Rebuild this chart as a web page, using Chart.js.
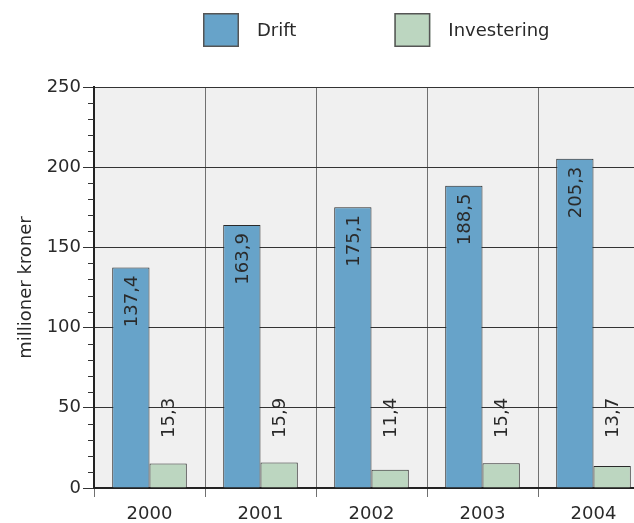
<!DOCTYPE html>
<html><head><meta charset="utf-8">
<script src="https://cdn.jsdelivr.net/npm/chart.js@4.4.1/dist/chart.umd.min.js"></script>
<style>
html,body{margin:0;padding:0;overflow:hidden;background:#fff;width:634px;height:523px}
#wrap{position:absolute;left:0;top:0;width:660px;height:523px}
</style>
</head><body><div id="wrap"><canvas id="c" width="660" height="523"></canvas></div>
<script>
const categories = ['2000', '2001', '2002', '2003', '2004'];
const driftValues = [137.4, 163.9, 175.1, 188.5, 205.3];
const investeringValues = [15.3, 15.9, 11.4, 15.4, 13.7];
const seriesNames = ['Drift', 'Investering'];
const yMin = 0, yMax = 250, yMajorStep = 50, yMinorStep = 10;
const yTitle = 'millioner kroner';

const FONT = '"DejaVu Sans", Verdana, sans-serif';
const TEXT = '#2a2a2a';
const BLUE = '#67a3c9';
const GREEN = '#bcd6c0';
const fmt = v => v.toFixed(1).replace('.', ',');

const bgPlugin = {
  id: 'bg',
  beforeDraw(chart) {
    const {ctx, chartArea: a} = chart;
    ctx.save();
    ctx.fillStyle = '#f0f0f0';
    ctx.fillRect(a.left, a.top, a.right - a.left, a.bottom - a.top);
    ctx.restore();
  }
};

const minorTicks = {
  id: 'minorTicks',
  afterDraw(chart) {
    const {ctx} = chart;
    const y = chart.scales.y;
    const x0 = chart.chartArea.left;
    ctx.save();
    ctx.strokeStyle = '#333';
    ctx.lineWidth = 1;
    for (let v = yMin; v <= yMax; v += yMinorStep) {
      if (v % yMajorStep === 0) continue;
      const py = Math.round(y.getPixelForValue(v)) + 0.5;
      ctx.beginPath();
      ctx.moveTo(x0 - 6, py);
      ctx.lineTo(x0, py);
      ctx.stroke();
    }
    ctx.restore();
  }
};

const barLabels = {
  id: 'barLabels',
  afterDatasetsDraw(chart) {
    const {ctx} = chart;
    const yScale = chart.scales.y;
    ctx.save();
    ctx.font = '18px ' + FONT;
    ctx.fillStyle = TEXT;
    ctx.textBaseline = 'middle';
    chart.getDatasetMeta(0).data.forEach((bar, i) => {
      ctx.save();
      ctx.translate(bar.x + 1, bar.y + 8);
      ctx.rotate(-Math.PI / 2);
      ctx.textAlign = 'right';
      ctx.fillText(fmt(driftValues[i]), 0, 0);
      ctx.restore();
    });
    const baseY = yScale.getPixelForValue(yMin) - 50;
    chart.getDatasetMeta(1).data.forEach((bar, i) => {
      ctx.save();
      ctx.translate(bar.x + 1, baseY);
      ctx.rotate(-Math.PI / 2);
      ctx.textAlign = 'left';
      ctx.fillText(fmt(investeringValues[i]), 0, 0);
      ctx.restore();
    });
    ctx.restore();
  }
};

const customLegend = {
  id: 'customLegend',
  afterDraw(chart) {
    const {ctx} = chart;
    ctx.save();
    ctx.font = '18px ' + FONT;
    ctx.textBaseline = 'middle';
    ctx.textAlign = 'left';
    let x = 203;
    const top = 13, bw = 36, bh = 34;
    chart.data.datasets.forEach((ds, i) => {
      ctx.fillStyle = ds.backgroundColor;
      ctx.fillRect(x, top, bw, bh);
      ctx.strokeStyle = '#555';
      ctx.lineWidth = 1.5;
      ctx.strokeRect(x + 0.75, top + 0.75, bw - 1.5, bh - 1.5);
      ctx.fillStyle = TEXT;
      const tx = x + bw + 18;
      ctx.fillText(ds.label, tx, top + bh / 2 + 1);
      x = tx + ctx.measureText(ds.label).width + 98;
    });
    ctx.restore();
  }
};

new Chart(document.getElementById('c'), {
  type: 'bar',
  data: {
    labels: categories,
    datasets: [
      {label: seriesNames[0], data: driftValues, backgroundColor: BLUE, borderColor: '#2a2a2a', borderWidth: 1},
      {label: seriesNames[1], data: investeringValues, backgroundColor: GREEN, borderColor: '#2a2a2a', borderWidth: 1}
    ]
  },
  options: {
    responsive: false,
    animation: false,
    events: [],
    layout: {padding: {top: 87, right: 11, left: 0, bottom: 0}},
    datasets: {bar: {barPercentage: 1, categoryPercentage: 0.672}},
    plugins: {legend: {display: false}, tooltip: {enabled: false}},
    scales: {
      x: {
        offset: true,
        grid: {color: '#707070', tickColor: '#707070', tickLength: 9, lineWidth: 1},
        border: {color: '#222', width: 2},
        ticks: {font: {family: FONT, size: 18}, color: TEXT, padding: 7, maxRotation: 0},
        afterFit(s) { s.height = 35; }
      },
      y: {
        min: yMin, max: yMax,
        grid: {color: '#333', tickColor: '#333', tickLength: 11, lineWidth: 1},
        border: {color: '#222', width: 2},
        ticks: {stepSize: yMajorStep, font: {family: FONT, size: 18}, color: TEXT, padding: 2},
        title: {display: true, text: yTitle, font: {family: FONT, size: 18}, color: TEXT, padding: {top: 16, bottom: 0}},
        afterFit(s) { s.width = 94; }
      }
    }
  },
  plugins: [bgPlugin, minorTicks, barLabels, customLegend]
});
</script>
</body></html>
